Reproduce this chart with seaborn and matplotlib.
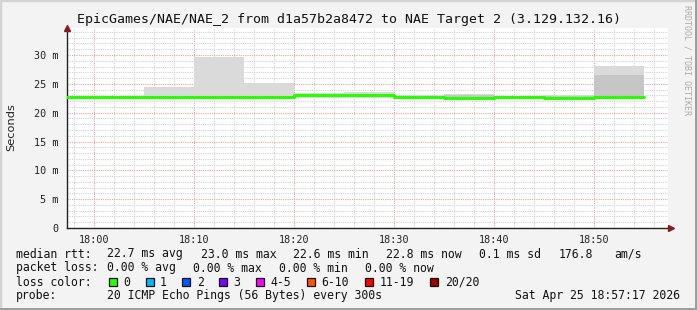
import matplotlib
matplotlib.use("Agg")
import matplotlib.pyplot as plt
from matplotlib.patches import Rectangle
from matplotlib.ticker import MultipleLocator, FixedLocator
import numpy as np
import pandas as pd
import seaborn as sns

# ---------------- data ----------------
seg_start_min = [-5, 0, 5, 10, 15, 20, 25, 30, 35, 40, 45, 50]   # minutes after 18:00
seg_end_min = 55
median_ms = [22.7, 22.7, 22.7, 22.7, 22.7, 23.0, 23.0, 22.8, 22.6, 22.7, 22.6, 22.8]
smoke_lo_ms = [22.5, 22.5, 22.4, 22.4, 22.3, 22.6, 22.6, 22.6, 22.4, 22.5, 22.5, 22.6]
smoke_hi_ms = [22.9, 22.9, 24.4, 29.6, 25.1, 23.35, 23.6, 23.0, 23.2, 22.9, 23.1, 28.1]
inner_lo_ms = [22.6, 22.6, 22.5, 22.5, 22.35, 22.7, 22.7, 22.7, 22.5, 22.6, 22.5, 22.7]
inner_hi_ms = [22.8, 22.8, 22.9, 22.9, 22.9, 23.1, 23.2, 22.9, 23.0, 22.8, 22.9, 26.5]
xtick_min = [0, 10, 20, 30, 40, 50]
xtick_labels = ["18:00", "18:10", "18:20", "18:30", "18:40", "18:50"]
ytick_vals = [0, 5, 10, 15, 20, 25, 30]
ytick_labels = ["0", "5 m", "10 m", "15 m", "20 m", "25 m", "30 m"]
loss_labels = ["0", "1", "2", "3", "4-5", "6-10", "11-19", "20/20"]
loss_colors = ["#26ff00", "#00b8ff", "#0059ff", "#7e00ff", "#ff00ff", "#ff5500", "#ff0000", "#a10000"]

title = "EpicGames/NAE/NAE_2 from d1a57b2a8472 to NAE Target 2 (3.129.132.16)"

# ---------------- figure ----------------
sns.set_style("white")
W, H = 697, 310
fig = plt.figure(figsize=(W / 100, H / 100), dpi=100, facecolor="#f3f3f3")

def fx(px):
    return px / W

def fy(py):
    return 1 - py / H

# frame
fig.patches.append(Rectangle((0, 0), 1, 1, transform=fig.transFigure, fill=False,
                             edgecolor="#d4d4d4", linewidth=2.5, zorder=0))
fig.patches.append(Rectangle((fx(695), 0), fx(2), 1, transform=fig.transFigure,
                             facecolor="#9e9e9e", edgecolor="none", zorder=1))
fig.patches.append(Rectangle((0, 0), 1, 2 / H, transform=fig.transFigure,
                             facecolor="#9e9e9e", edgecolor="none", zorder=1))

left, right, top, bottom = 67, 668, 28, 228
ax = fig.add_axes([fx(left), fy(bottom), fx(right - left), (bottom - top) / H])
ax.set_facecolor("white")

xmin, xmax = -2.7, 57.4
ymax = (bottom - top) / 5.766
ax.set_xlim(xmin, xmax)
ax.set_ylim(0, ymax)

# grid
ax.xaxis.set_major_locator(FixedLocator(xtick_min))
ax.xaxis.set_minor_locator(MultipleLocator(2))
ax.yaxis.set_major_locator(FixedLocator(ytick_vals))
ax.yaxis.set_minor_locator(MultipleLocator(1))
ax.grid(which="minor", color="#d2d2d2", linestyle=(0, (1, 1)), linewidth=0.8)
ax.grid(which="major", color="#e8a4a4", linestyle=(0, (1, 1)), linewidth=0.8)
ax.set_axisbelow(True)

# smoke
t = seg_start_min + [seg_end_min]
def ext(a):
    return list(a) + [a[-1]]
ax.fill_between(t, ext(smoke_lo_ms), ext(smoke_hi_ms), step="post",
                color="#dadada", linewidth=0, zorder=2)
ax.fill_between(t, ext(inner_lo_ms), ext(inner_hi_ms), step="post",
                color="#c6c6c6", linewidth=0, zorder=3)

df = pd.DataFrame({"t": t, "median": ext(median_ms)})
sns.lineplot(data=df, x="t", y="median", ax=ax, drawstyle="steps-post",
             color=loss_colors[0], linewidth=2.2, zorder=5, legend=False)

# axes styling
for s in ["top", "right"]:
    ax.spines[s].set_visible(False)
for s in ["left", "bottom"]:
    ax.spines[s].set_color("#222222")
    ax.spines[s].set_linewidth(1.0)
ax.set_xlabel("")
ax.set_ylabel("")
ax.set_xticks(xtick_min)
ax.set_xticklabels(xtick_labels, family="DejaVu Sans Mono", fontsize=7.3, color="#222222")
ax.set_yticks(ytick_vals)
ax.set_yticklabels(ytick_labels, family="DejaVu Sans Mono", fontsize=7.3, color="#222222")
ax.tick_params(axis="both", which="major", direction="inout", length=4, width=0.8,
               color="#e08080", pad=4)
ax.tick_params(axis="both", which="minor", direction="inout", length=2, width=0.6,
               color="#888888")
ax.tick_params(axis="x", which="major", pad=3)

fig.text(fx(11), fy(127), "Seconds", family="DejaVu Sans", fontsize=8.2,
         color="#222222", rotation=90, ha="center", va="center")

# arrows
ax.plot([0], [1.0], marker="^", color="#8b1a1a", markersize=5, transform=ax.transAxes,
        clip_on=False, zorder=10)
ax.plot([1.005], [0], marker=">", color="#8b1a1a", markersize=5, transform=ax.transAxes,
        clip_on=False, zorder=10)

# title
mono = "DejaVu Sans Mono"
fig.text(fx(77), fy(19), title, family=mono, fontsize=9.5, color="#111111",
         ha="left", va="center")

# watermark
fig.text(fx(687), fy(5), "RRDTOOL / TOBI OETIKER", family=mono, fontsize=6.0,
         color="#ababab", rotation=270, ha="center", va="top")

# legend
fs = 8.3
def t_at(x, y, s, **kw):
    fig.text(fx(x), fy(y), s, family=mono, fontsize=fs, color="#111111",
             ha=kw.get("ha", "left"), va="center")

y1, y2, y3, y4 = 254, 268, 282, 296
t_at(16, y1, "median rtt:")
t_at(107.3, y1, "22.7 ms avg")
t_at(200.7, y1, "23.0 ms max")
t_at(293.3, y1, "22.6 ms min")
t_at(386, y1, "22.8 ms now")
t_at(479.3, y1, "0.1 ms sd")
t_at(559, y1, "176.8")
t_at(614.3, y1, "am/s")

t_at(16, y2, "packet loss:")
t_at(107.3, y2, "0.00 % avg")
t_at(193.3, y2, "0.00 % max")
t_at(279.3, y2, "0.00 % min")
t_at(365, y2, "0.00 % now")

t_at(16, y3, "loss color:")
box_x = [109.3, 145.7, 182.3, 219, 255.7, 307, 365, 430]
lab_x = [123.3, 160, 196.7, 233.3, 270, 321.7, 379.3, 445]
for bx, lx, lab, col in zip(box_x, lab_x, loss_labels, loss_colors):
    fig.patches.append(Rectangle((fx(bx), fy(y3 + 4)), 8 / W, 8 / H,
                                 transform=fig.transFigure, facecolor=col,
                                 edgecolor="#111111", linewidth=0.9, zorder=5))
    t_at(lx, y3, lab)

t_at(16, y4, "probe:")
t_at(107.3, y4, "20 ICMP Echo Pings (56 Bytes) every 300s")
t_at(680, y4, "Sat Apr 25 18:57:17 2026", ha="right")

fig.savefig("out.png", dpi=100, facecolor=fig.get_facecolor())
